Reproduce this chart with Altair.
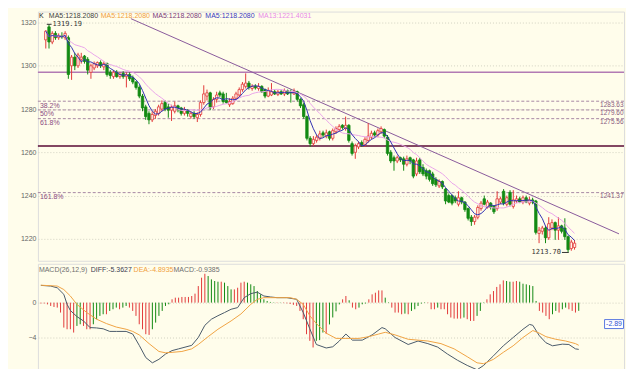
import altair as alt
import pandas as pd

# ---------------- candle data (240-min bars) ----------------
opens = [1312,1318,1311,1315,1313,1314,1313,1313,1300,1304,1300,1303,1304.5,1303,1297,1299,1300,1301.5,1299.5,1301,
         1297,1295,1297,1295,1296.5,1295,1296,1294.5,1292.5,1290,1286,1281,1278,1275,1277,1278,1280,1283,1281,1279.5,
         1279,1281.5,1280.5,1278,1279.5,1276.5,1278,1276,1277.5,1283,1286,1287.5,1281,1284.5,1287.5,1287,1284,1282,1282.5,1285,
         1286.5,1289,1290.5,1292,1289.5,1290.5,1289.5,1290.5,1289,1286,1286.5,1288,1286.8,1288,1287,1288.5,1288,1287,1288,1284.5,
         1282,1276.5,1266.5,1264,1265.5,1266.5,1269,1267.5,1269.5,1266.5,1269.5,1270.5,1272.5,1271,1272.5,1264,1260,1262.5,1264.5,1263.5,
         1265.5,1267,1269,1268,1269.5,1270.5,1267,1260,1257.5,1256,1257.5,1257,1254.5,1257.5,1256.5,1250,1256.5,1253,1251.5,1251.5,
         1250,1247.5,1244.5,1246.5,1243,1240,1240,1239,1236,1239,1237,1234,1230,1228,1230,1234,1238.5,1234.5,1236.5,1235,
         1234,1237,1242,1236,1241.5,1235,1237.5,1238.5,1237,1239,1236.5,1238,1237.5,1222.5,1223.5,1225,1220.5,1225,1227.5,1224,
         1226,1225,1221,1215.5,1216]
highs = [1316.5,1319.19,1316,1316,1315,1315.5,1316,1314,1305,1306,1306,1306,1305,1304,1301,1302,1302,1302.5,1302,1301.5,
         1298,1298,1298,1297,1297.5,1297,1297,1295.5,1293,1291,1287,1282,1279,1279,1280,1282,1284,1284,1282.5,1282,
         1283.5,1282,1281,1281,1280,1279,1279,1278.5,1284,1291,1289,1288,1285.5,1288,1288.5,1288,1287.5,1285,1286,1288,
         1290,1292.5,1296.5,1293,1291.5,1291.5,1292,1291,1289.5,1290,1292,1289,1288.8,1289,1289.5,1289,1289,1289.5,1288.5,1285,
         1283,1277,1267.5,1267.5,1268,1270,1270,1270.5,1270,1271,1272,1273,1273,1276.5,1273,1265,1264,1265,1265.5,1267,
         1273.5,1270,1270,1271,1272,1271,1268,1261,1258.5,1258.5,1258,1258,1258.5,1258,1257,1257.5,1257.5,1254.5,1252.5,1252,
         1251,1248.5,1247.5,1247,1243.5,1241,1240.5,1240,1242,1239.5,1237.5,1234.5,1231,1231,1235.5,1237.5,1240,1238,1237,1235.5,
         1242,1239.5,1243,1240,1242.5,1242.5,1240,1239.5,1240,1240,1239.5,1239,1238,1225.5,1226,1226,1230,1229,1228,1230,
         1226.5,1229.5,1221.5,1219.5,1219.5]
lows = [1308,1308,1310,1312,1312,1312.5,1312,1294,1293.5,1298,1299,1301,1301,1296,1294,1298,1299,1299,1298,1295,
        1294,1294,1294.5,1294,1294,1290,1293,1291.5,1289,1285,1279,1275,1273,1274,1275.5,1277,1279,1279,1276,1274.5,
        1278,1278.5,1277,1277,1276.5,1275.5,1275.5,1274,1276.5,1282,1284,1279.5,1280,1283,1285.5,1282.5,1282.5,1281,1282,1284,
        1285.5,1288,1289.5,1289,1288.5,1289,1288.5,1287.5,1285,1285.5,1286,1286.5,1286,1286.5,1286,1286.5,1283,1286.5,1283.5,1280.5,
        1275.5,1265.5,1262.5,1263,1264.5,1265.5,1267,1266.5,1265.5,1265.5,1268.5,1269.5,1270.5,1270,1264.5,1258.5,1257,1261.5,1262.5,1262.5,
        1264.5,1266,1267,1267,1268.5,1266.5,1258.5,1255,1251.5,1255,1255.5,1251.5,1253.5,1254.5,1248,1249,1250,1249,1247.5,1246.5,
        1244.5,1244,1243.5,1243,1236,1236.5,1235.5,1236.5,1235,1236,1232.5,1228.5,1226,1226.5,1229,1233,1235.5,1234,1233.5,1231.5,
        1233,1236,1235.5,1235,1235,1234,1236.5,1236.5,1236,1236.5,1235.5,1236,1222,1218,1222,1218,1219.5,1224,1219.5,1219.5,
        1222.5,1219.5,1213.7,1214.5,1215]
closes = [1316,1311,1315,1313,1314,1313.5,1315,1296,1304,1300,1305,1304,1302,1298,1300,1301,1301.5,1300,1301,1296,
          1295.5,1297,1295,1296,1295,1296,1294,1292.5,1290,1286,1280.5,1276.5,1275,1277.5,1279,1281,1282.5,1280,1279.5,1281,
          1281.5,1280,1278,1279.5,1278,1278,1276.5,1277.5,1283,1287,1287.5,1280.5,1284.5,1286.5,1286.5,1283.5,1283,1283.5,1285,1287,
          1289,1291.5,1292,1290,1290.5,1289.8,1290.5,1288,1286,1288.5,1288,1287,1288,1287,1288.5,1287,1287.5,1288,1284.5,1281.5,
          1276.5,1266.5,1264,1266,1267,1268.5,1268,1269,1266.5,1270,1271,1272,1271.5,1272.5,1265.5,1259.5,1263,1264,1263.5,1266,
          1267.5,1268.8,1268,1270,1271,1267.5,1259.5,1256,1256,1257.5,1256.5,1254.5,1257,1256,1249,1256,1251,1250,1249,1247.5,
          1245.5,1245,1246.5,1244,1237.5,1237,1236.5,1237.5,1239,1237,1233.5,1229.5,1228,1230,1234.5,1236.5,1236,1237,1234.5,1232.5,
          1238.5,1238.5,1236.5,1239,1236,1238,1238.5,1237,1239,1237,1238,1237,1223,1224,1225,1220.5,1227,1227.5,1224,1226,
          1223.5,1221,1215,1218.5,1218]

# ---------------- MACD data ----------------
hist_vals = [-0.1,-0.1,-0.2,-0.38,-0.5,-0.57,-1.14,-2.86,-3.05,-3.05,-3.43,-2.67,-2.48,-2.67,-3.05,-3.05,-2.48,-1.9,-1.52,-1.33,
             -1.33,-0.95,-0.76,-0.57,-0.76,-0.57,-0.38,-0.57,-0.95,-1.52,-2.48,-3.05,-3.62,-3.7,-3.05,-2.29,-1.52,-0.95,-0.38,-0.19,
             0.38,0.57,0.57,0.65,0.65,0.65,0.76,1.03,1.9,2.86,3.31,3.05,2.67,2.48,2.4,2.4,2.29,1.9,1.52,1.52,
             1.71,2.29,2.4,2.29,2.1,1.9,1.33,0.95,0.38,0.19,0.08,0.04,-0.04,0.03,-0.05,-0.08,-0.15,-0.25,-0.38,-0.95,
             -1.9,-3.62,-4.38,-5.14,-4.38,-4.3,-3.43,-3.6,-2.5,-1.7,-1.0,-0.2,0.38,0.76,0.27,-0.57,-0.76,-0.57,-0.19,-0.1,
             0.38,0.95,1.14,1.4,1.4,0.57,0.05,-0.57,-1.14,-1.14,-1.33,-1.26,-1.33,-0.95,-0.76,-0.38,-0.11,0.05,-0.05,-0.76,
             -0.76,-0.57,-0.76,-0.76,-1.33,-1.71,-1.83,-1.83,-1.83,-1.71,-1.9,-2.1,-2.1,-1.52,-0.95,-0.05,0.38,0.95,1.33,1.8,
             2.1,2.55,2.48,2.4,2.4,2.48,2.4,2.17,2.1,2.0,1.9,0.19,-0.95,-1.14,-1.52,-1.9,-1.33,-0.95,-1.14,-0.76,
             -0.57,-0.76,-0.95,-1.14,-0.94]
diff_i = [0,3,5,7,8,9,11,13,15,17,19,21,23,26,28,30,32,34,36,38,40,42,46,48,50,52,54,56,58,60,62,64,66,68,70,72,75,78,80,82,
          84,87,89,91,93,95,98,101,104,105,108,112,115,118,121,124,127,130,133,135,138,141,144,147,149,150,152,154,156,159,
          161,163,164]
diff_v = [1.98,1.9,1.7,0.95,-0.2,-0.9,-1.6,-2.1,-2.86,-2.9,-3.0,-3.3,-3.3,-3.3,-3.6,-4.9,-6.3,-6.9,-6.5,-5.9,
          -5.5,-5.3,-4.9,-4.0,-2.6,-1.9,-1.5,-1.14,-0.76,-0.57,0.57,1.03,1.2,0.76,0.65,0.57,0.57,0.38,-1.14,-3.0,
          -4.8,-5.2,-5.06,-4.4,-3.6,-4.3,-4.3,-3.7,-2.86,-3.0,-4.0,-4.8,-4.4,-4.7,-5.1,-5.9,-6.6,-7.2,-7.7,-7.2,
          -6.1,-4.95,-4.0,-3.05,-2.5,-2.6,-3.8,-4.6,-4.95,-4.76,-4.8,-5.3,-5.36]
dea_i = [0,5,7,9,11,14,17,20,23,26,28,30,33,36,38,40,43,46,48,51,54,58,61,64,66,68,72,76,78,80,
         82,84,87,90,93,97,100,103,105,108,112,118,122,126,130,133,135,138,141,144,147,150,152,154,157,160,163,164]
dea_v = [2.0,1.9,1.5,0.76,-0.2,-1.14,-1.9,-2.4,-2.8,-3.05,-3.3,-3.7,-4.7,-5.6,-5.75,-5.7,-5.6,-5.3,-4.8,-3.9,
         -3.05,-2.1,-1.3,-0.2,0.38,0.57,0.57,0.57,0.38,-0.2,-1.5,-2.4,-3.5,-4.1,-4.1,-4.1,-3.9,-3.6,-3.4,-3.7,
         -4.2,-4.4,-4.7,-5.3,-6.2,-6.9,-7.0,-6.5,-5.7,-4.95,-4.0,-3.2,-3.5,-3.9,-4.2,-4.4,-4.7,-4.89]

fib_levels = [1283.63, 1279.60, 1275.56, 1241.37]
fib_pct = ["38.2%", "50%", "61.8%", "161.8%"]
fib_lab = ["1283.63", "1279.60", "1275.56", "1241.37"]
hline_levels = [1297.0, 1262.9]
trend_i = [26.4, 177.8]
trend_p = [1321.8, 1222.3]
price_ticks = [1220, 1240, 1260, 1280, 1300, 1320]
macd_ticks = [0, -4]

W = 588  # plot width (page is 634 wide with 8px margins)

# ---------------- frames ----------------
n = len(closes)
df = pd.DataFrame({"i": list(range(n)), "open": opens, "high": highs, "low": lows, "close": closes})
df["dir"] = ["up" if c >= o else "down" for o, c in zip(opens, closes)]
df["ma5"] = df["close"].rolling(5, min_periods=1).mean()
df["ma13"] = df["close"].rolling(13, min_periods=1).mean()

cats = []
for k, v in enumerate(hist_vals):
    prev = hist_vals[k - 1] if k > 0 else 0
    dark = abs(v) >= abs(prev)
    cats.append(("r" if v >= 0 else "g") + ("d" if dark else "l"))
hdf = pd.DataFrame({"i": list(range(n)), "h": hist_vals, "cat": cats})
diff_df = pd.DataFrame({"i": diff_i, "v": diff_v})
dea_df = pd.DataFrame({"i": dea_i, "v": dea_v})
fib_df = pd.DataFrame({"level": fib_levels, "pct": fib_pct, "lab": fib_lab})
hl_df = pd.DataFrame({"level": hline_levels, "c": ["#b27ab4", "#5a0a34"]})
tr_df = pd.DataFrame({"i": trend_i, "p": trend_p})

FONT = "Liberation Sans"
xs = alt.Scale(domain=[-0.9, 177.8], nice=False, zero=False)
ps = alt.Scale(domain=[1209.86, 1325.07], nice=False, zero=False)
ms = alt.Scale(domain=[-7.886, 4.457], nice=False, zero=False)

def yaxis(vals):
    return alt.Axis(values=vals, title=None, ticks=False, tickSize=0, domain=False, labelFontSize=7,
                    labelColor="#666666", labelPadding=2, labelFont=FONT, grid=True, format="d",
                    gridColor="#d2d2c2", gridDash=[1, 2])

X = alt.X("i:Q", scale=xs, axis=None)
dir_stroke = alt.Stroke("dir:N", scale=alt.Scale(domain=["up", "down"], range=["#e23a3a", "#138a13"]), legend=None)
dir_fill = alt.Fill("dir:N", scale=alt.Scale(domain=["up", "down"], range=["#fff4ea", "#138a13"]), legend=None)

def spacer(h):
    # invisible block that reserves the 29px label column left of the plot
    return alt.Chart(pd.DataFrame({"t": [""]})).mark_rect(opacity=0).encode(
        x=alt.value(-29), x2=alt.value(0), y=alt.value(0), y2=alt.value(h))

grid_layer = alt.Chart(df).mark_point(opacity=0).encode(x=X, y=alt.Y("close:Q", scale=ps, axis=yaxis(price_ticks)))
fib_rule = alt.Chart(fib_df).mark_rule(strokeDash=[3, 2], color="#a888a4", strokeWidth=1).encode(
    y=alt.Y("level:Q", scale=ps, axis=yaxis(price_ticks)))
fib_left = alt.Chart(fib_df).mark_text(align="left", baseline="top", dy=0.5, fontSize=7, font=FONT,
                                       color="#8a4a80").encode(
    x=alt.value(2), y=alt.Y("level:Q", scale=ps, axis=yaxis(price_ticks)), text="pct:N")
fib_right = alt.Chart(fib_df).mark_text(align="right", baseline="top", dy=0.5, fontSize=6.5, font=FONT,
                                        color="#8a5a80").encode(
    x=alt.value(W - 0.5), y=alt.Y("level:Q", scale=ps, axis=yaxis(price_ticks)), text="lab:N")
hl = alt.Chart(hl_df).mark_rule(strokeWidth=1.5).encode(
    y=alt.Y("level:Q", scale=ps, axis=yaxis(price_ticks)), color=alt.Color("c:N", scale=None))
trend = alt.Chart(tr_df).mark_line(color="#8a5a9c", strokeWidth=1, clip=True).encode(
    x=alt.X("i:Q", scale=xs, axis=None), y=alt.Y("p:Q", scale=ps, axis=yaxis(price_ticks)))
wick = alt.Chart(df).mark_rule(strokeWidth=1).encode(
    x=X, y=alt.Y("low:Q", scale=ps, axis=yaxis(price_ticks)), y2="high:Q", stroke=dir_stroke)
body = alt.Chart(df).mark_bar(size=2.4, strokeWidth=0.8).encode(
    x=X, y=alt.Y("open:Q", scale=ps, axis=yaxis(price_ticks)), y2="close:Q", fill=dir_fill, stroke=dir_stroke)
ma13 = alt.Chart(df).mark_line(color="#eaa6ea", strokeWidth=1).encode(
    x=X, y=alt.Y("ma13:Q", scale=ps, axis=yaxis(price_ticks)))
ma5 = alt.Chart(df).mark_line(color="#3232b2", strokeWidth=1).encode(
    x=X, y=alt.Y("ma5:Q", scale=ps, axis=yaxis(price_ticks)))

hi_df = pd.DataFrame({"i": [0.3], "i2": [1.8], "p": [1319.19], "t": ["1319.19"]})
lo_df = pd.DataFrame({"i": [160.1], "i2": [162.2], "p": [1213.7], "t": ["1213.70"]})
hi_rule = alt.Chart(hi_df).mark_rule(color="#333333", strokeWidth=1).encode(
    x=alt.X("i:Q", scale=xs, axis=None), x2="i2:Q", y=alt.Y("p:Q", scale=ps, axis=yaxis(price_ticks)))
hi_text = alt.Chart(hi_df).mark_text(align="left", baseline="middle", dx=1, fontSize=7,
                                     font="DejaVu Sans Mono", color="#333333").encode(
    x=alt.X("i2:Q", scale=xs, axis=None), y=alt.Y("p:Q", scale=ps, axis=yaxis(price_ticks)), text="t:N")
lo_rule = alt.Chart(lo_df).mark_rule(color="#333333", strokeWidth=1).encode(
    x=alt.X("i:Q", scale=xs, axis=None), x2="i2:Q", y=alt.Y("p:Q", scale=ps, axis=yaxis(price_ticks)))
lo_text = alt.Chart(lo_df).mark_text(align="right", baseline="middle", dx=-1, fontSize=7,
                                     font="DejaVu Sans Mono", color="#333333").encode(
    x=alt.X("i:Q", scale=xs, axis=None), y=alt.Y("p:Q", scale=ps, axis=yaxis(price_ticks)), text="t:N")

def label(txt, px, py, color, size=7):
    return alt.Chart(pd.DataFrame({"t": [txt]})).mark_text(
        align="left", baseline="middle", fontSize=size, font=FONT, color=color).encode(
        x=alt.value(px), y=alt.value(py), text="t:N")

hdr = [label("K", 1, 4, "#222222"),
       label("MA5:1218.2080", 11, 4, "#404040"),
       label("MA5:1218.2080", 63, 4, "#f0a040"),
       label("MA5:1218.2080", 115, 4, "#7a3a7a"),
       label("MA5:1218.2080", 168, 4, "#3838c0"),
       label("MA13:1221.4031", 221, 4, "#e88ae8")]

price = alt.layer(spacer(250), grid_layer, fib_rule, hl, trend, wick, body, ma13, ma5, fib_left, fib_right,
                  hi_rule, hi_text, lo_rule, lo_text, *hdr).properties(width=W, height=250)

# ---------------- MACD panel ----------------
hist = alt.Chart(hdf).mark_rule(strokeWidth=1).encode(
    x=X, y=alt.Y("h:Q", scale=ms, axis=yaxis(macd_ticks)), y2=alt.datum(0),
    stroke=alt.Stroke("cat:N", scale=alt.Scale(domain=["rd", "rl", "gd", "gl"],
                                               range=["#c42222", "#e67878", "#2a7e2a", "#68b868"]), legend=None))
diff_line = alt.Chart(diff_df).mark_line(color="#4a5a6a", strokeWidth=1).encode(
    x=alt.X("i:Q", scale=xs, axis=None), y=alt.Y("v:Q", scale=ms, axis=yaxis(macd_ticks)))
dea_line = alt.Chart(dea_df).mark_line(color="#f0a444", strokeWidth=1).encode(
    x=alt.X("i:Q", scale=xs, axis=None), y=alt.Y("v:Q", scale=ms, axis=yaxis(macd_ticks)))
box = alt.Chart(pd.DataFrame({"t": ["-2.89"]})).mark_rect(fill="#ffffff", stroke="#5a78e0", strokeWidth=1).encode(
    x=alt.value(W - 19.5), x2=alt.value(W - 0.5), y=alt.value(56), y2=alt.value(65))
box_t = alt.Chart(pd.DataFrame({"t": ["-2.89"]})).mark_text(
    align="center", baseline="middle", fontSize=7, font=FONT, color="#3050d0").encode(
    x=alt.value(W - 10), y=alt.value(60.5), text="t:N")

mlabels = [label("MACD(26,12,9)", 1, 6, "#707070"),
           label("DIFF:-5.3627", 53, 6, "#404050"),
           label("DEA:-4.8935", 96, 6, "#f0a040"),
           label("MACD:-0.9385", 136, 6, "#707070")]

macd = alt.layer(spacer(108), hist, diff_line, dea_line, box, box_t, *mlabels).properties(width=W, height=108)

chart = alt.vconcat(price, macd, spacing=1).properties(
    padding={"left": 0, "top": 2, "right": 0, "bottom": 0},
    background="#fffdeb",
).configure_view(stroke="#bdbdbd", strokeWidth=1).configure_axisY(
    minExtent=29, maxExtent=29).configure(font=FONT)

chart.save("out.html", embed_options={"renderer": "svg", "actions": False})
